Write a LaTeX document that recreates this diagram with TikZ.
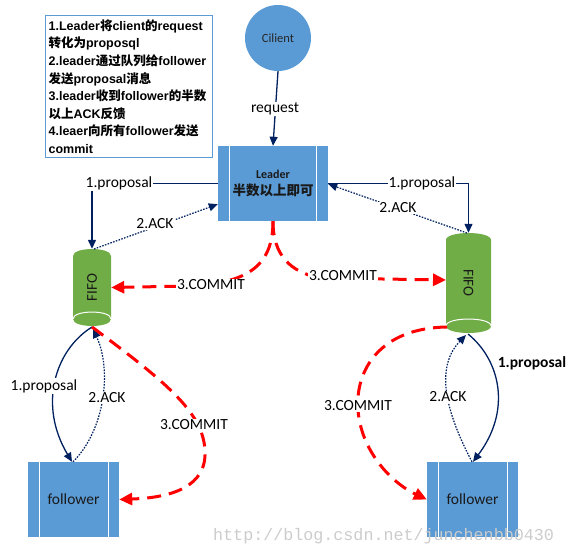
\documentclass[tikz,border=0pt]{standalone}
\usepackage{fontspec}
\setmainfont{Carlito}
\newfontfamily\cjk{Noto Sans CJK SC}
\newfontfamily\lsans{Liberation Sans}
\newfontfamily\wmfont{Liberation Mono}
\usetikzlibrary{arrows.meta,calc}
\definecolor{boxblue}{HTML}{5B9BD5}
\definecolor{fifogreen}{HTML}{70AD47}
\definecolor{navy}{HTML}{002060}
\definecolor{commitred}{HTML}{FF0000}
\begin{document}
\begin{tikzpicture}[x=1pt,y=-1pt,
  lbl/.style={font=\fontsize{15.5}{18}\selectfont, inner sep=1pt, fill=white, text=black},
  prop/.style={draw=navy, line width=1.3pt, -{Triangle[length=9pt,width=8pt]}},
  ackline/.style={draw=navy, line width=1.2pt, dash pattern=on 1.6pt off 1.3pt, -{Triangle[length=9pt,width=8pt]}},
  commitline/.style={draw=commitred, line width=3pt, dash pattern=on 14pt off 8pt, -{Triangle[length=13pt,width=12pt]}},
  bluebox/.style={fill=boxblue, inner sep=0pt, font=\fontsize{15.5}{18}\selectfont, text=black!90},
  barline/.style={draw=white, line width=1pt},
  fifobox/.style={inner sep=0pt}]
\useasboundingbox (0,0) rectangle (575,546);

% notes box
\node[draw=boxblue, line width=1.2pt, anchor=north west, inner xsep=3pt, inner ysep=2pt,
      text width=161pt, minimum height=142pt, align=left,
      font=\fontsize{12.5}{17.6}\selectfont\bfseries\lsans] (notes) at (45,15)
 {1.Leader{\cjk 将}client{\cjk 的}request\\
  {\cjk 转化为}proposql\\
  2.leader{\cjk 通过队列给}follower\\
  {\cjk 发送}proposal{\cjk 消息}\\
  3.leader{\cjk 收到}follower{\cjk 的半数}\\
  {\cjk 以上}ACK{\cjk 反馈}\\
  4.leaer{\cjk 向所有}follower{\cjk 发送}\\
  commit};

% client
\node[circle, fill=boxblue, minimum size=66pt, inner sep=0pt,
      font=\fontsize{12.5}{14}\selectfont, text=black!85] (client) at (278,38) {Cilient};

% leader
\node[bluebox, minimum width=110pt, minimum height=75pt, align=center] (leader) at (273,183.5)
 {{\fontsize{12}{16}\selectfont\bfseries Leader}\\[-1pt]{\fontsize{13.5}{16}\selectfont\cjk\bfseries 半数以上即可}};
\draw[barline] ($(leader.north west)+(12,0)$) -- ($(leader.south west)+(12,0)$);
\draw[barline] ($(leader.north east)+(-12,0)$) -- ($(leader.south east)+(-12,0)$);

% followers
\node[bluebox, minimum width=91pt, minimum height=75pt] (followerL) at (73.5,499.5) {follower};
\draw[barline] ($(followerL.north west)+(12,0)$) -- ($(followerL.south west)+(12,0)$);
\draw[barline] ($(followerL.north east)+(-11,0)$) -- ($(followerL.south east)+(-11,0)$);
\node[bluebox, minimum width=91pt, minimum height=75pt] (followerR) at (472.5,499.5) {follower};
\draw[barline] ($(followerR.north west)+(12,0)$) -- ($(followerR.south west)+(12,0)$);
\draw[barline] ($(followerR.north east)+(-11,0)$) -- ($(followerR.south east)+(-11,0)$);

% FIFO cylinders
\fill[fifogreen] (73,256) .. controls (73,246.7) and (111,246.7) .. (111,256) -- (111,319)
  .. controls (111,328.3) and (73,328.3) .. (73,319) -- cycle;
\draw[white, line width=1pt] (73,319) .. controls (73,309.7) and (111,309.7) .. (111,319);
\node[fifobox, minimum width=38pt, minimum height=77pt] (fifoL) at (92,287.5) {};
\node[rotate=90, font=\fontsize{15}{18}\selectfont, text=black!90] (fifoLt) at (fifoL) {FIFO};

\fill[fifogreen] (446,240) .. controls (446,230.7) and (491,230.7) .. (491,240) -- (491,326)
  .. controls (491,335.3) and (446,335.3) .. (446,326) -- cycle;
\draw[white, line width=1pt] (446,326) .. controls (446,316.7) and (491,316.7) .. (491,326);
\node[fifobox, minimum width=45pt, minimum height=100pt] (fifoR) at (468.5,283) {};
\node[rotate=-90, font=\fontsize{15}{18}\selectfont, text=black!90] (fifoRt) at (fifoR) {FIFO};

% request
\draw[prop] (client.south) -- (leader.north);
\node[lbl] (reqlbl) at (275,109) {request};

% upper proposals
\draw[prop] (leader.west) -| (fifoL.north);
\node[lbl] (propL) at (119,183) {1.proposal};
\draw[prop] (leader.east) -| (fifoR.north);
\node[lbl] (propR) at (422,183) {1.proposal};

% upper acks
\coordinate (ackLs) at (94,249);
\coordinate (ackRs) at (467,233);
\draw[ackline] (ackLs) -- ($(leader.south west)+(0,-17)$);
\node[lbl] (ackL) at (155,224) {2.ACK};
\draw[ackline] (ackRs) -- ($(leader.east)+(0,0.5)$);
\node[lbl] (ackR) at (398,208) {2.ACK};

% commits from leader
\draw[commitline] (leader.south) .. controls (273,268) and (245,283) .. (190,286) -- (fifoL.east);
\node[lbl] (comL) at (211,285) {3.COMMIT};
\draw[commitline] (leader.south) .. controls (273,255) and (290,272) .. (320,278) -- (446,280);
\node[lbl] (comR) at (343,276) {3.COMMIT};

% lower left
\coordinate (fLb) at (92,327);
\draw[prop] (fLb) .. controls (55,350) and (38,405) .. ($(followerL.north)+(-1.5,0)$);
\node[lbl] (propLL) at (44,386) {1.proposal};
\draw[ackline] ($(followerL.north)+(-0.5,0)$) .. controls (105,430) and (112,370) .. (93,329);
\node[lbl] (ackLL) at (107,398) {2.ACK};
\draw[commitline] (fLb) .. controls (170,385) and (206,415) .. (205,455)
   .. controls (204,492) and (160,498) .. (followerL.east);
\node[lbl] (comLL) at (194,425) {3.COMMIT};

% lower right
\coordinate (fRb) at (468,334);
\draw[prop] (fRb) .. controls (500,360) and (512,410) .. ($(followerR.north)+(0.5,0)$);
\node[font=\fontsize{15.5}{18}\selectfont\bfseries, inner sep=1pt] (propRR) at (532,363) {1.proposal};
\draw[ackline] ($(followerR.north)+(-0.5,0)$) .. controls (450,420) and (432,370) .. (466,335);
\node[lbl] (ackRR) at (448,397) {2.ACK};
\draw[commitline] (447,327) .. controls (380,328) and (355,370) .. (358,410)
   .. controls (361,450) and (390,482) .. (followerR.west);
\node[lbl] (comRR) at (358,406) {3.COMMIT};

% watermark
\node[anchor=west, inner sep=0pt, font=\fontsize{16.7}{18}\selectfont\wmfont, text=black!20] (wm) at (213,536)
 {http://blog.csdn.net/junchenbb0430};
\end{tikzpicture}
\end{document}
